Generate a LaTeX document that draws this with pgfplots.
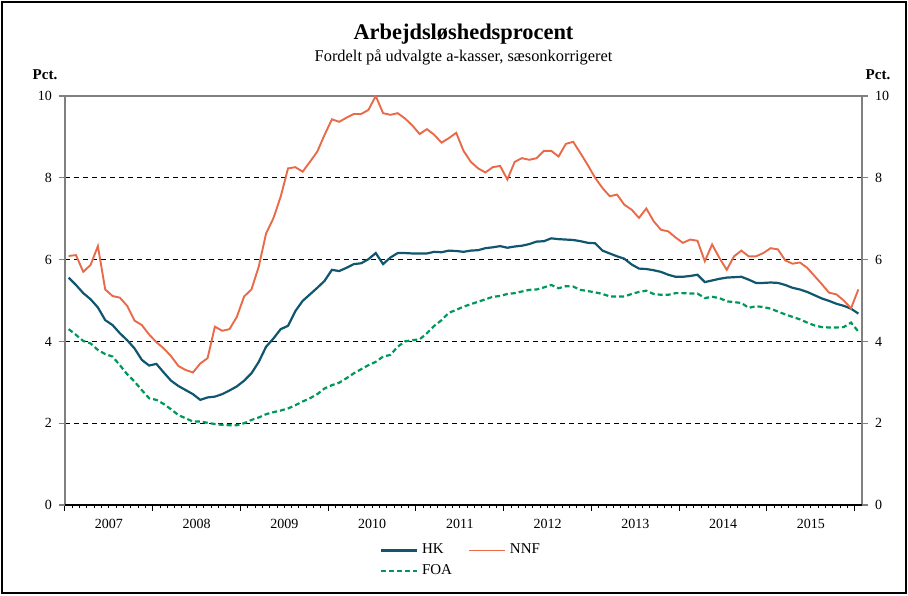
\documentclass[border=0pt]{standalone}
\usepackage{fontspec}
\setmainfont{Liberation Serif}
\usepackage{pgfplots}
\pgfplotsset{compat=1.18}
\usepackage{pgfplotstable}
\definecolor{hk}{HTML}{10566E}
\definecolor{nnf}{HTML}{E96A48}
\definecolor{foa}{HTML}{00985A}
\definecolor{axg}{HTML}{808080}

\pgfplotstableread{
i v
0 5.56
1 5.38
2 5.18
3 5.03
4 4.83
5 4.52
6 4.40
7 4.20
8 4.03
9 3.83
10 3.55
11 3.41
12 3.45
13 3.24
14 3.04
15 2.91
16 2.81
17 2.71
18 2.57
19 2.63
20 2.65
21 2.71
22 2.80
23 2.90
24 3.04
25 3.22
26 3.50
27 3.87
28 4.07
29 4.30
30 4.38
31 4.74
32 4.99
33 5.15
34 5.31
35 5.48
36 5.75
37 5.72
38 5.80
39 5.89
40 5.91
41 6.01
42 6.16
43 5.89
44 6.05
45 6.16
46 6.16
47 6.15
48 6.15
49 6.15
50 6.19
51 6.18
52 6.22
53 6.21
54 6.19
55 6.22
56 6.23
57 6.28
58 6.30
59 6.33
60 6.29
61 6.32
62 6.34
63 6.38
64 6.44
65 6.45
66 6.52
67 6.50
68 6.49
69 6.48
70 6.45
71 6.41
72 6.40
73 6.22
74 6.15
75 6.08
76 6.02
77 5.88
78 5.78
79 5.77
80 5.74
81 5.70
82 5.63
83 5.58
84 5.58
85 5.60
86 5.63
87 5.45
88 5.49
89 5.53
90 5.56
91 5.57
92 5.58
93 5.51
94 5.43
95 5.43
96 5.44
97 5.43
98 5.38
99 5.31
100 5.27
101 5.21
102 5.13
103 5.05
104 4.99
105 4.92
106 4.87
107 4.80
108 4.68
}\hkdata

\pgfplotstableread{
i v
0 6.09
1 6.11
2 5.70
3 5.87
4 6.33
5 5.27
6 5.11
7 5.07
8 4.87
9 4.51
10 4.40
11 4.17
12 3.98
13 3.83
14 3.64
15 3.40
16 3.30
17 3.24
18 3.46
19 3.59
20 4.36
21 4.26
22 4.30
23 4.60
24 5.10
25 5.27
26 5.83
27 6.64
28 7.01
29 7.54
30 8.23
31 8.26
32 8.15
33 8.39
34 8.64
35 9.05
36 9.43
37 9.37
38 9.47
39 9.56
40 9.56
41 9.66
42 10.0
43 9.58
44 9.54
45 9.58
46 9.45
47 9.28
48 9.07
49 9.19
50 9.05
51 8.86
52 8.97
53 9.10
54 8.66
55 8.39
56 8.23
57 8.13
58 8.26
59 8.29
60 7.96
61 8.39
62 8.48
63 8.44
64 8.48
65 8.66
66 8.66
67 8.52
68 8.83
69 8.88
70 8.60
71 8.31
72 8.00
73 7.75
74 7.55
75 7.59
76 7.34
77 7.22
78 7.02
79 7.25
80 6.94
81 6.73
82 6.69
83 6.54
84 6.41
85 6.49
86 6.46
87 5.96
88 6.37
89 6.04
90 5.75
91 6.08
92 6.22
93 6.08
94 6.08
95 6.16
96 6.28
97 6.25
98 5.98
99 5.90
100 5.93
101 5.80
102 5.60
103 5.40
104 5.19
105 5.15
106 5.00
107 4.81
108 5.27
}\nnfdata

\pgfplotstableread{
i v
0 4.30
1 4.16
2 4.01
3 3.95
4 3.79
5 3.69
6 3.63
7 3.42
8 3.20
9 3.02
10 2.81
11 2.61
12 2.57
13 2.47
14 2.34
15 2.20
16 2.12
17 2.04
18 2.04
19 2.01
20 1.98
21 1.96
22 1.95
23 1.95
24 2.00
25 2.08
26 2.14
27 2.22
28 2.27
29 2.31
30 2.36
31 2.44
32 2.53
33 2.61
34 2.71
35 2.85
36 2.93
37 2.99
38 3.10
39 3.22
40 3.32
41 3.42
42 3.50
43 3.63
44 3.67
45 3.87
46 4.00
47 4.03
48 4.05
49 4.20
50 4.38
51 4.52
52 4.70
53 4.77
54 4.85
55 4.91
56 4.97
57 5.03
58 5.09
59 5.11
60 5.16
61 5.18
62 5.22
63 5.26
64 5.27
65 5.32
66 5.38
67 5.30
68 5.35
69 5.34
70 5.26
71 5.23
72 5.20
73 5.16
74 5.10
75 5.10
76 5.10
77 5.16
78 5.21
79 5.24
80 5.16
81 5.14
82 5.14
83 5.18
84 5.18
85 5.17
86 5.17
87 5.06
88 5.09
89 5.06
90 4.98
91 4.96
92 4.94
93 4.82
94 4.86
95 4.84
96 4.80
97 4.73
98 4.66
99 4.60
100 4.54
101 4.46
102 4.39
103 4.35
104 4.34
105 4.34
106 4.35
107 4.46
108 4.24
}\foadata

\begin{document}
\begin{tikzpicture}
\useasboundingbox (-32.5pt,-45pt) rectangle (421.5pt,252.5pt);
\draw[black, line width=0.8pt] (-31.5pt,-44pt) rectangle (420.5pt,251.5pt);
\begin{axis}[
  at={(0,0)}, anchor=south west,
  scale only axis, width=398.5pt, height=204.5pt,
  xmin=-0.5, xmax=108.5, ymin=0, ymax=10,
  xtick={-0.5,11.5,23.5,35.5,47.5,59.5,71.5,83.5,95.5,107.5},
  x tick label as interval,
  xticklabels={2007,2008,2009,2010,2011,2012,2013,2014,2015},
  minor x tick num=11,
  ytick={0,2,4,6,8,10},
  xtick pos=left, ytick pos=left,
  tick align=outside,
  major tick length=3pt, minor tick length=1.6pt,
  ymajorgrids,
  grid style={black, line width=0.5pt, dash pattern=on 2.5pt off 2pt},
  axis line style={axg, line width=0.8pt},
  tick style={black, line width=0.5pt},
  y tick style={axg, line width=0.6pt},
  ticklabel style={font=\fontsize{7}{8}\selectfont},
  xticklabel style={yshift=-0.5pt},
  /pgf/number format/assume math mode=true,
  legend columns=2,
  legend cell align=left,
  legend style={draw=none, fill=none, at={(0.387,-0.075)}, anchor=north west,
    font=\fontsize{7.5}{9}\selectfont, row sep=0pt,
    /tikz/every even column/.append style={column sep=6pt}},
  legend image code/.code={\draw[#1] (0pt,0pt) -- (18pt,0pt);},
]
\addplot[hk, line width=1.1pt] table[x=i, y=v] {\hkdata};
\addlegendentry{HK}
\addplot[nnf, line width=0.95pt] table[x=i, y=v] {\nnfdata};
\addlegendentry{NNF}
\addplot[foa, line width=1.1pt, dash pattern=on 2.5pt off 1.5pt] table[x=i, y=v] {\foadata};
\addlegendentry{FOA}
\end{axis}
\begin{axis}[
  at={(0,0)}, anchor=south west,
  scale only axis, width=398.5pt, height=204.5pt,
  xmin=-0.5, xmax=108.5, ymin=0, ymax=10,
  axis x line=none, axis y line*=right,
  ytick={0,2,4,6,8,10},
  tick align=outside, major tick length=3pt,
  axis line style={axg, line width=0.8pt},
  y tick style={axg, line width=0.6pt},
  ticklabel style={font=\fontsize{7}{8}\selectfont},
  /pgf/number format/assume math mode=true,
]
\addplot[draw=none] coordinates {(0,0)};
\end{axis}
\draw[black, line width=0.7pt] (0,0) -- (398.5pt,0);
\node[font=\fontsize{11.2}{13}\selectfont\bfseries] at (199.25pt,235.5pt) {Arbejdsløshedsprocent};
\node[font=\fontsize{8.2}{10}\selectfont] at (199.25pt,224pt) {Fordelt på udvalgte a-kasser, sæsonkorrigeret};
\node[font=\fontsize{7.5}{9}\selectfont\bfseries] at (-10pt,215pt) {Pct.};
\node[font=\fontsize{7.5}{9}\selectfont\bfseries] at (406.5pt,215pt) {Pct.};
\end{tikzpicture}
\end{document}
